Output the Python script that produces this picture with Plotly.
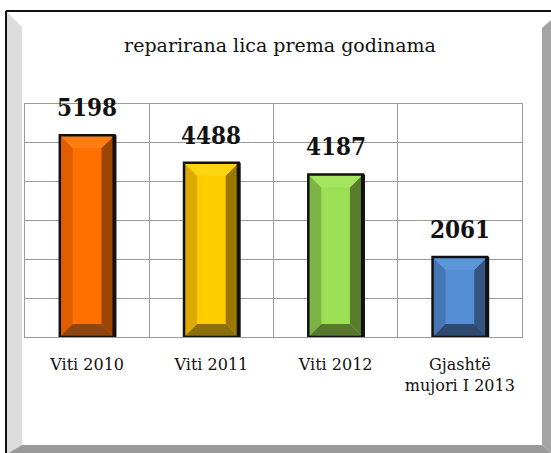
import plotly.graph_objects as go

# ---- data ----
categories = ["Viti 2010", "Viti 2011", "Viti 2012", "Gjashtë<br>mujori I 2013"]
values = [5198, 4488, 4187, 2061]
title_text = "reparirana lica prema godinama"

# ---- styles ----
face_colors = ["#FF7000", "#FFCC00", "#9BDF55", "#558ED5"]
top_colors = ["#FF7D12", "#FFD512", "#A3E55E", "#5C97DC"]
left_colors = ["#E05E00", "#DCAA00", "#7EB443", "#4676B4"]
right_colors = ["#9C4500", "#9A7700", "#5A7D2D", "#34557F"]
bottom_colors = ["#8E4510", "#8C6E0C", "#56782F", "#2F4A70"]

W, H = 551, 453
L, R, T, B = 25, 29, 104, 116
pw, ph = W - L - R, H - T - B
ymax = 6000
bar_w = 0.44
bx = 13 / (pw / 4)          # bevel size in category units
by = 13 / (ph / ymax)       # bevel size in data units

fig = go.Figure()
xs = list(range(len(values)))
fig.add_trace(go.Bar(
    x=xs, y=values, width=bar_w,
    marker=dict(color=face_colors, line=dict(width=0)),
    hoverinfo="skip", showlegend=False,
))

shapes = []


def poly(pts, color):
    path = "M " + " L ".join(f"{x},{y}" for x, y in pts) + " Z"
    return dict(type="path", path=path, xref="x", yref="y", fillcolor=color,
                line=dict(width=0), layer="above")


for i, v in enumerate(values):
    x0, x1 = i - bar_w / 2, i + bar_w / 2
    shapes.append(poly([(x0, 0), (x0, v), (x0 + bx, v - by), (x0 + bx, by)], left_colors[i]))
    shapes.append(poly([(x1, 0), (x1, v), (x1 - bx, v - by), (x1 - bx, by)], right_colors[i]))
    shapes.append(poly([(x0, v), (x1, v), (x1 - bx, v - by), (x0 + bx, v - by)], top_colors[i]))
    shapes.append(poly([(x0, 0), (x1, 0), (x1 - bx, by), (x0 + bx, by)], bottom_colors[i]))
    shapes.append(dict(type="rect", xref="x", yref="y", x0=x0, x1=x1, y0=0, y1=v,
                       line=dict(color="#111111", width=2.5), fillcolor="rgba(0,0,0,0)",
                       layer="above"))
    shapes.append(dict(type="line", xref="x", yref="y", x0=x1, x1=x1, y0=0, y1=v,
                       line=dict(color="#111111", width=4), layer="above"))


# ---- decorative frame (paper coords from pixels) ----
def pxx(p):
    return (p - L) / pw


def pyy(p):
    return (H - B - p) / ph


def ppoly(pts, color):
    path = "M " + " L ".join(f"{pxx(x)},{pyy(y)}" for x, y in pts) + " Z"
    return dict(type="path", path=path, xref="paper", yref="paper", fillcolor=color,
                line=dict(width=0), layer="below")


shapes.append(ppoly([(7, 12), (22, 27), (22, 445), (7, 454)], "#DCDCDC"))
shapes.append(ppoly([(552, 19), (542, 28), (542, 445), (552, 454)], "#A4A4A4"))
shapes.append(ppoly([(7, 454), (22, 445), (542, 445), (552, 454)], "#9A9A9A"))
shapes.append(dict(type="line", xref="paper", yref="paper", x0=pxx(6), x1=pxx(6),
                   y0=pyy(11), y1=pyy(454), line=dict(color="#111111", width=2), layer="below"))
shapes.append(dict(type="line", xref="paper", yref="paper", x0=pxx(6), x1=pxx(552),
                   y0=pyy(11), y1=pyy(11), line=dict(color="#111111", width=2), layer="below"))

annotations = []
for i, v in enumerate(values):
    annotations.append(dict(
        x=i, y=v, xref="x", yref="y", text=f"<b>{v}</b>", showarrow=False,
        yanchor="bottom", yshift=11,
        font=dict(family="DejaVu Serif Condensed, DejaVu Serif", size=24, color="#111111"),
    ))

fig.update_layout(
    width=W, height=H,
    margin=dict(l=L, r=R, t=T, b=B),
    paper_bgcolor="white", plot_bgcolor="rgba(0,0,0,0)",
    title=dict(text=title_text, xref="paper", x=pxx(280), xanchor="center",
               yref="container", y=1 - 45 / H, yanchor="middle",
               font=dict(family="DejaVu Serif", size=19, color="#111111")),
    shapes=shapes, annotations=annotations,
    showlegend=False,
    bargap=0.56,
)
fig.update_xaxes(
    range=[-0.5, 3.5], tickmode="array", tickvals=xs, ticktext=categories,
    showgrid=False, zeroline=False,
    showline=True, mirror=True, linecolor="#9A9A9A", linewidth=1.3,
    ticks="", ticklabelstandoff=13,
    tickfont=dict(family="DejaVu Serif", size=16, color="#111111"),
    minor=dict(tickmode="array", tickvals=[-0.5, 0.5, 1.5, 2.5, 3.5],
               showgrid=True, gridcolor="#9A9A9A", gridwidth=1.3, ticks=""),
    fixedrange=True,
)
fig.update_yaxes(
    range=[0, ymax], dtick=1000, showticklabels=False,
    showgrid=True, gridcolor="#9A9A9A", gridwidth=1.3, zeroline=False,
    showline=True, mirror=True, linecolor="#9A9A9A", linewidth=1.3,
    fixedrange=True,
)

fig.write_html("out.html", config={"displayModeBar": False},
               post_script="document.body.style.margin='0';document.body.style.overflow='hidden';")
